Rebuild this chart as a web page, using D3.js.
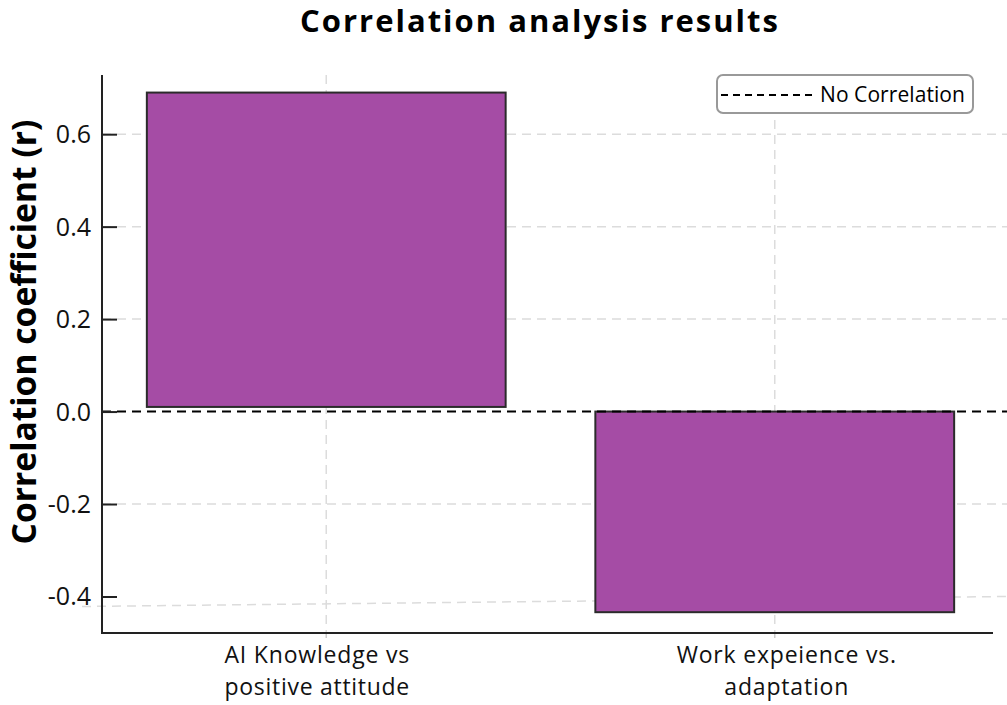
<!DOCTYPE html>
<html><head><meta charset="utf-8">
<script src="https://cdn.jsdelivr.net/npm/d3@7"></script>
<style>body{margin:0;background:#fff}svg{display:block}text{font-family:"Open Sans","Noto Sans",sans-serif}</style>
</head><body>
<script>
const categories = ["AI Knowledge vs\npositive attitude", "Work expeience vs.\nadaptation"];
const values = [0.69, -0.434];
const barBase = [0.01, 0];
const yTicks = [-0.4, -0.2, 0.0, 0.2, 0.4, 0.6];
const yTickLabels = ["-0.4", "-0.2", "0.0", "0.2", "0.4", "0.6"];
const title = "Correlation analysis results";
const yLabel = "Correlation coefficient (r)";
const legendLabel = "No Correlation";

(function(){
const W = 1007, H = 705;
const svg = d3.select("body").append("svg").attr("width", W).attr("height", H);
const pLeft = 102, pRight = 993, pTop = 75, pBottom = 633;
const labelShift = [-9, 12];

function spread(sel, target) {
  const n = sel.node();
  const w = n.getComputedTextLength();
  const len = sel.text().length;
  if (w > 0 && len > 1) sel.attr("letter-spacing", ((target - w) / len).toFixed(2));
  return sel;
}
function fit(sel, target) {
  const n = sel.node();
  const fs = parseFloat(sel.attr("font-size"));
  const w = n.getComputedTextLength();
  if (w > 0) sel.attr("font-size", (fs * target / w).toFixed(2));
  return sel;
}

const x = d3.scaleBand().domain(categories).range([pLeft, 999]).paddingInner(0.2).paddingOuter(0.1);
const y = d3.scaleLinear().domain([-0.479, 0.728]).range([pBottom, pTop]);

// grid
const grid = svg.append("g").attr("stroke", "#dcdcdc").attr("stroke-width", 1.5).attr("stroke-dasharray", "9,6");
grid.selectAll("line.h").data(yTicks.filter(d => d !== 0)).enter().append("line")
  .attr("x1", d => d === -0.4 ? 82 : pLeft).attr("x2", W)
  .attr("y1", d => d === -0.4 ? y(d) + 10 : y(d)).attr("y2", d => y(d));
grid.selectAll("line.v").data(categories).enter().append("line")
  .attr("x1", d => x(d) + x.bandwidth()/2).attr("x2", d => x(d) + x.bandwidth()/2)
  .attr("y1", pTop).attr("y2", pBottom);

// bars
svg.append("g").selectAll("rect").data(categories).enter().append("rect")
  .attr("x", d => x(d)).attr("width", x.bandwidth())
  .attr("y", (d, i) => y(Math.max(values[i], barBase[i])))
  .attr("height", (d, i) => Math.abs(y(values[i]) - y(barBase[i])))
  .attr("fill", "#a54ca5").attr("stroke", "#2b2b2b").attr("stroke-width", 2);

// zero line
svg.append("line").attr("x1", pLeft).attr("x2", W).attr("y1", y(0)).attr("y2", y(0))
  .attr("stroke", "#000").attr("stroke-width", 2).attr("stroke-dasharray", "9,6");

// y axis
const yAxis = svg.append("g").attr("transform", `translate(${pLeft},0)`)
  .call(d3.axisRight(y).tickValues(yTicks).tickSize(15).tickFormat(() => ""));
yAxis.select(".domain").remove();
yAxis.selectAll(".tick line").attr("stroke", "#222").attr("stroke-width", 2);
svg.append("line").attr("x1", pLeft).attr("x2", pLeft).attr("y1", pTop).attr("y2", pBottom + 1).attr("stroke", "#222").attr("stroke-width", 2);
svg.append("g").selectAll("text").data(yTicks).enter().append("text")
  .attr("x", 91).attr("y", d => y(d)).attr("dy", "0.36em").attr("text-anchor", "end")
  .attr("font-size", 25).attr("fill", "#111").text((d, i) => yTickLabels[i]);

// x axis
const xAxis = svg.append("g").attr("transform", `translate(0,${pBottom})`)
  .call(d3.axisBottom(x).tickSize(5).tickFormat(() => ""));
xAxis.select(".domain").remove();
xAxis.selectAll(".tick line").attr("stroke", "#ccc").attr("stroke-width", 1.5);
svg.append("line").attr("x1", pLeft - 1).attr("x2", pRight).attr("y1", pBottom).attr("y2", pBottom).attr("stroke", "#222").attr("stroke-width", 2);
categories.forEach((d, ci) => {
  d.split("\n").forEach((s, i) => {
    const t = svg.append("text").attr("x", x(d) + x.bandwidth()/2 + labelShift[ci]).attr("y", 663 + i * 32)
      .attr("text-anchor", "middle").attr("font-size", 23).attr("fill", "#111").text(s);
    const w = t.node().getComputedTextLength();
    spread(t, w * 1.07);
  });
});

// title
spread(svg.append("text").attr("x", 540).attr("y", 32).attr("text-anchor", "middle")
  .attr("font-size", 31).attr("font-weight", "bold").attr("fill", "#000").text(title), 480);
// y label
fit(svg.append("text").attr("transform", "translate(36,332) rotate(-90)").attr("text-anchor", "middle")
  .attr("font-size", 28).attr("font-weight", "bold").attr("fill", "#000").text(yLabel), 425);

// legend
const lg = svg.append("g");
lg.append("rect").attr("x", 717).attr("y", 75).attr("width", 256).attr("height", 38).attr("rx", 6)
  .attr("fill", "#fff").attr("stroke", "#999").attr("stroke-width", 2);
lg.append("line").attr("x1", 721).attr("x2", 816).attr("y1", 95).attr("y2", 95)
  .attr("stroke", "#000").attr("stroke-width", 2).attr("stroke-dasharray", "7,5");
spread(lg.append("text").attr("x", 820).attr("y", 95).attr("dy", "0.35em").attr("font-size", 21).attr("fill", "#000").text(legendLabel), 145);
})();
</script>
</body></html>
